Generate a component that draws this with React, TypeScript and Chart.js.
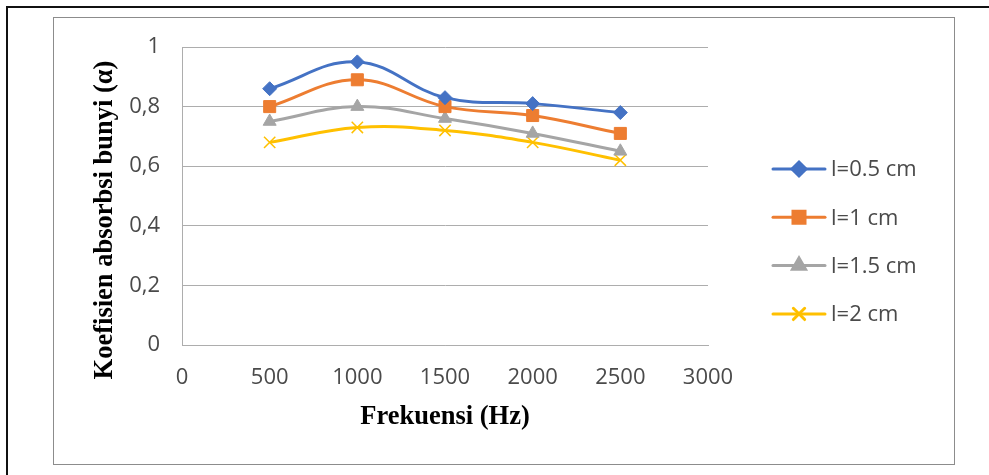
import React, { useEffect, useRef } from "react";
import { Chart, registerables } from "chart.js";
import { drawPoint } from "chart.js/helpers";

Chart.register(...registerables);

// Sound absorption coefficient versus frequency for four layer thicknesses
const frequencies = [500, 1000, 1500, 2000, 2500];
const seriesLabels = ["l=0.5 cm", "l=1 cm", "l=1.5 cm", "l=2 cm"];
const alpha05 = [0.86, 0.95, 0.83, 0.81, 0.78];
const alpha1 = [0.8, 0.89, 0.8, 0.77, 0.71];
const alpha15 = [0.75, 0.8, 0.76, 0.71, 0.65];
const alpha2 = [0.68, 0.73, 0.72, 0.68, 0.62];
const xTicks = [0, 500, 1000, 1500, 2000, 2500, 3000];
const yTicks = [0, 0.2, 0.4, 0.6, 0.8, 1];

const xTitle = "Frekuensi (Hz)";
const yTitle = "Koefisien absorbsi bunyi (\u03b1)";

const W = 989;
const H = 475;
const AREA = { left: 182, right: 708, top: 47, bottom: 345 };

const tickFont = { family: "'Open Sans', sans-serif", size: 22 };
const tickColor = "#4A4A4A";
const titleFont = "bold 26.5px 'Liberation Serif', 'Times New Roman', serif";
const gridColor = "#ADADAD";

const styles = [
  { color: "#4472C4", pointStyle: "rectRot", radius: 7, borderWidth: 1 },
  { color: "#ED7D31", pointStyle: "rect", radius: 8.5, borderWidth: 1 },
  { color: "#A5A5A5", pointStyle: "triangle", radius: 7.5, borderWidth: 1 },
  { color: "#FFC000", pointStyle: "crossRot", radius: 8, borderWidth: 1.5 },
];

const seriesValues = [alpha05, alpha1, alpha15, alpha2];

// Axis titles and the line-plus-marker legend on the right
const decorations = {
  id: "decorations",
  afterDraw(chart: any) {
    const ctx = chart.ctx;
    const area = chart.chartArea;
    ctx.save();
    ctx.fillStyle = "#000";
    ctx.font = titleFont;
    ctx.textAlign = "center";
    ctx.textBaseline = "middle";
    ctx.fillText(xTitle, (area.left + area.right) / 2, 417);
    ctx.save();
    ctx.translate(105, 220);
    ctx.rotate(-Math.PI / 2);
    ctx.fillText(yTitle, 0, 0);
    ctx.restore();

    ctx.font = `${tickFont.size}px ${tickFont.family}`;
    ctx.textAlign = "left";
    chart.data.datasets.forEach((ds: any, i: number) => {
      const st = styles[i];
      const y = 169 + i * 48.3;
      ctx.strokeStyle = st.color;
      ctx.lineWidth = 3;
      ctx.lineCap = "round";
      ctx.beginPath();
      ctx.moveTo(773, y);
      ctx.lineTo(825, y);
      ctx.stroke();
      ctx.fillStyle = st.color;
      ctx.strokeStyle = st.color;
      drawPoint(
        ctx,
        {
          pointStyle: st.pointStyle as any,
          radius: st.radius,
          borderWidth: st.borderWidth,
          rotation: 0,
        },
        799,
        y
      );
      ctx.fillStyle = tickColor;
      ctx.fillText(ds.label, 831, y + 1);
    });
    ctx.restore();
  },
};

export default function App() {
  const canvasRef = useRef<HTMLCanvasElement | null>(null);

  useEffect(() => {
    if (!canvasRef.current) return;
    const chart = new Chart(canvasRef.current, {
      type: "line",
      data: {
        datasets: seriesValues.map((vals, i) => ({
          label: seriesLabels[i],
          data: frequencies.map((f, j) => ({ x: f, y: vals[j] })),
          borderColor: styles[i].color,
          backgroundColor: styles[i].color,
          borderWidth: 3,
          pointStyle: styles[i].pointStyle as any,
          pointRadius: styles[i].radius,
          pointBorderWidth: styles[i].borderWidth,
          pointBackgroundColor: styles[i].color,
          pointBorderColor: styles[i].color,
          tension: 0.4,
          fill: false,
        })),
      },
      options: {
        responsive: false,
        animation: false,
        layout: {
          padding: { left: 0, top: AREA.top, right: W - AREA.right, bottom: 0 },
        },
        plugins: {
          legend: { display: false },
          tooltip: { enabled: false },
        },
        scales: {
          x: {
            type: "linear",
            min: 0,
            max: 3000,
            afterBuildTicks: (scale: any) => {
              scale.ticks = xTicks.map((v) => ({ value: v }));
            },
            afterFit: (scale: any) => {
              scale.height = H - AREA.bottom;
            },
            grid: { display: false, drawTicks: false },
            border: { display: true, color: gridColor, width: 1 },
            ticks: {
              padding: 20,
              color: tickColor,
              font: tickFont,
              maxRotation: 0,
              autoSkip: false,
              callback: (v: any) => String(v),
            },
          },
          y: {
            type: "linear",
            min: 0,
            max: 1,
            afterBuildTicks: (scale: any) => {
              scale.ticks = yTicks.map((v) => ({ value: v }));
            },
            afterFit: (scale: any) => {
              scale.width = AREA.left;
            },
            grid: { color: gridColor, lineWidth: 1, drawTicks: false },
            border: { display: true, color: gridColor, width: 1 },
            ticks: {
              padding: 22,
              color: tickColor,
              font: tickFont,
              callback: (v: any) =>
                String(parseFloat(Number(v).toFixed(2))).replace(".", ","),
            },
          },
        },
      },
      plugins: [decorations],
    });
    return () => chart.destroy();
  }, []);

  return (
    <div
      style={{
        position: "absolute",
        left: 0,
        top: 0,
        width: W,
        height: H,
        background: "#fff",
        overflow: "hidden",
      }}
    >
      <div
        style={{
          position: "absolute",
          left: 6,
          top: 6,
          width: W,
          height: H,
          borderTop: "2px solid #111",
          borderLeft: "2px solid #111",
        }}
      />
      <div
        style={{
          position: "absolute",
          left: 53,
          top: 17,
          width: 955 - 53,
          height: 465 - 17,
          border: "1px solid #8C8C8C",
          boxSizing: "border-box",
        }}
      />
      <canvas
        ref={canvasRef}
        width={W}
        height={H}
        style={{ position: "absolute", left: 0, top: 0 }}
      />
    </div>
  );
}
